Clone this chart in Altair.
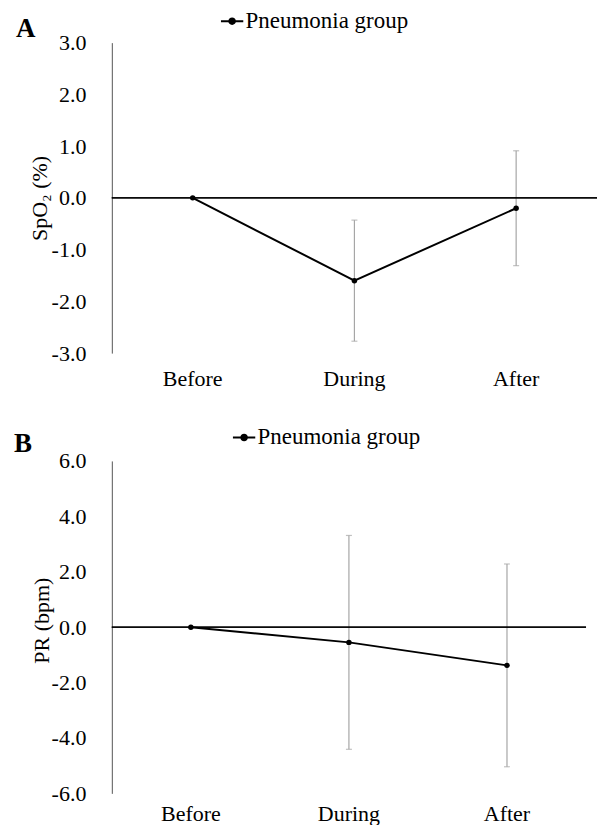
import altair as alt
import pandas as pd

categories = ["Before", "During", "After"]
group_name = "Pneumonia group"

spo2_mean = [0.0, -1.6, -0.2]
spo2_err = [0.0, 1.17, 1.11]

pr_mean = [0.0, -0.55, -1.38]
pr_err = [0.0, 3.86, 3.66]

FONT = "Liberation Serif"
LEG_PATH = "M-1,0H1M-0.25,0A0.25,0.25,0,1,1,0.25,0A0.25,0.25,0,1,1,-0.25,0Z"
NEG_FMT = "(datum.value < 0 ? '-' : '') + format(abs(datum.value), '.1f')"
ERR_COLOR = "#a6a6a6"


def panel(means, errs, lim, step, ytitle, letter, w, h, leg_x, leg_y,
          letter_x, letter_y, title_x, title_dy, xpad):
    df = pd.DataFrame({
        "phase": categories,
        "mean": means,
        "lo": [m - e for m, e in zip(means, errs)],
        "hi": [m + e for m, e in zip(means, errs)],
        "err": errs,
        "group": [group_name] * len(categories),
    })
    ticks = [round(-lim + i * step, 1) for i in range(int(round(2 * lim / step)) + 1)]
    x = alt.X("phase:N", sort=categories, title=None,
              axis=alt.Axis(domain=False, ticks=False, labelAngle=0, labelFont=FONT,
                            labelFontSize=22, labelColor="black", labelPadding=xpad))
    yscale = alt.Scale(domain=[-lim, lim], nice=False, zero=False)
    yaxis = alt.Axis(values=ticks, labelExpr=NEG_FMT, grid=False, ticks=False,
                     domainColor="#555555", domainWidth=1, labelFont=FONT, labelFontSize=22,
                     labelColor="black", labelPadding=26, title=ytitle, titleFont=FONT,
                     titleFontSize=22, titleFontWeight="normal", titleColor="black",
                     titleX=title_x, titleY=h / 2 + title_dy, titleAngle=-90,
                     titleAlign="center", titleBaseline="middle")
    base = alt.Chart(df)
    zero = base.mark_rule(color="black", strokeWidth=1).encode(y=alt.datum(0, scale=yscale))
    errdf = base.transform_filter("datum.err > 0")
    bars = errdf.mark_rule(color=ERR_COLOR, strokeWidth=1.2).encode(
        x=x, y=alt.Y("lo:Q", scale=yscale, axis=yaxis), y2="hi:Q")
    cap_lo = errdf.mark_tick(color=ERR_COLOR, size=6, thickness=1.2, orient="horizontal").encode(
        x=x, y=alt.Y("lo:Q", scale=yscale))
    cap_hi = errdf.mark_tick(color=ERR_COLOR, size=6, thickness=1.2, orient="horizontal").encode(
        x=x, y=alt.Y("hi:Q", scale=yscale))
    line = base.mark_line(strokeWidth=2).encode(
        x=x,
        y=alt.Y("mean:Q", scale=yscale, axis=yaxis),
        color=alt.Color("group:N", scale=alt.Scale(range=["black"]),
                        legend=alt.Legend(title=None, orient="none", legendX=leg_x, legendY=leg_y,
                                          symbolType=LEG_PATH, symbolSize=500,
                                          symbolStrokeWidth=2, symbolFillColor="black",
                                          symbolStrokeColor="black", labelFont=FONT,
                                          labelFontSize=23, labelColor="black", labelLimit=400,
                                          labelOffset=1, padding=0, symbolOffset=0)),
    )
    pts = base.mark_point(filled=True, size=30, color="black", opacity=1).encode(
        x=x, y=alt.Y("mean:Q", scale=yscale))
    lab = alt.Chart(pd.DataFrame({"t": [letter]})).mark_text(
        font=FONT, fontSize=27, fontWeight="bold", color="black", align="left",
        baseline="middle").encode(text="t:N", x=alt.value(letter_x), y=alt.value(letter_y))
    return alt.layer(bars, cap_lo, cap_hi, zero, line, pts, lab).properties(width=w, height=h)


a = panel(spo2_mean, spo2_err, 3.0, 1.0, "SpO₂  (%)", "A", 486, 311,
          108, -34, -96, -14, -72, 0, 15)
b = panel(pr_mean, pr_err, 6.0, 2.0, "PR (bpm)", "B", 475, 333,
          120, -36, -98, -17, -70, -7, 10)

chart = alt.vconcat(a, b, spacing=36).properties(
    padding={"left": 6, "top": 0, "right": 0, "bottom": 0}
).configure_view(stroke=None).configure_axis(
    labelFont=FONT, titleFont=FONT
).configure_legend(labelFont=FONT).configure_text(font=FONT).resolve_scale(color="independent")

chart.save("out.html", embed_options={"renderer": "svg", "actions": False})
